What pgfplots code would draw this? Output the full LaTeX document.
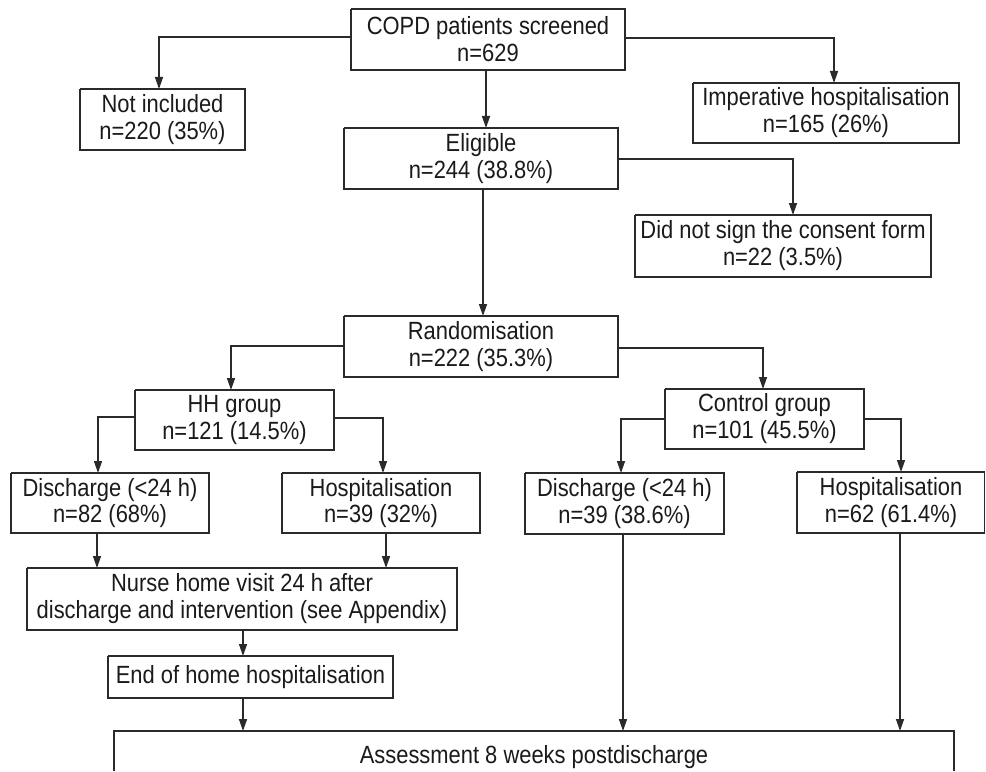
\documentclass[border=0pt]{standalone}
\usepackage{pgfplots}
\pgfplotsset{compat=1.18}
\usepackage{fontspec}
\setmainfont{Liberation Sans}[FakeStretch=0.88]
\usetikzlibrary{arrows.meta}
\definecolor{ln}{HTML}{2A2A2A}
\definecolor{tx}{HTML}{1A1A1A}
\begin{document}
\begin{tikzpicture}[x=1bp,y=1bp,
  bx/.style={color=ln, line width=1.4bp, line join=miter, mark=none, solid},
  arr/.style={bx, -{Triangle[length=12bp,width=8bp]}},
  lbl/.style={align=center, text=tx, font=\fontsize{25}{27}\selectfont, inner sep=0pt}]
\begin{axis}[
  width=986bp, height=771bp, scale only axis,
  xmin=0, xmax=986, ymin=0, ymax=771, y dir=reverse,
  axis lines=none, clip=false,
]
\path (axis cs:0,0) rectangle (axis cs:986,771);
% boxes
\addplot[bx] coordinates {(351,9)(625,9)(625,70)(351,70)(351,9)};
\addplot[bx] coordinates {(80,89)(245,89)(245,150)(80,150)(80,89)};
\addplot[bx] coordinates {(693,83)(959,83)(959,143)(693,143)(693,83)};
\addplot[bx] coordinates {(344,128)(618,128)(618,189)(344,189)(344,128)};
\addplot[bx] coordinates {(635,215)(931,215)(931,277)(635,277)(635,215)};
\addplot[bx] coordinates {(344,316)(618,316)(618,377)(344,377)(344,316)};
\addplot[bx] coordinates {(135,390)(334,390)(334,450)(135,450)(135,390)};
\addplot[bx] coordinates {(665,389)(864,389)(864,449)(665,449)(665,389)};
\addplot[bx] coordinates {(11,473)(209,473)(209,533)(11,533)(11,473)};
\addplot[bx] coordinates {(282,473)(480,473)(480,533)(282,533)(282,473)};
\addplot[bx] coordinates {(525,473)(724,473)(724,534)(525,534)(525,473)};
\addplot[bx] coordinates {(797,472)(984.5,472)(984.5,533)(797,533)(797,472)};
\addplot[bx] coordinates {(27,568)(457,568)(457,630)(27,630)(27,568)};
\addplot[bx] coordinates {(108,656)(393,656)(393,698)(108,698)(108,656)};
\addplot[bx] coordinates {(114,771)(114,731)(954,731)(954,771)};
% arrows
\addplot[arr] coordinates {(351,37)(159,37)(159,89)};
\addplot[arr] coordinates {(625,38)(834,38)(834,83)};
\addplot[arr] coordinates {(486,70)(486,128)};
\addplot[arr] coordinates {(618,159)(793,159)(793,215)};
\addplot[arr] coordinates {(483,189)(483,316)};
\addplot[arr] coordinates {(344,346)(231,346)(231,390)};
\addplot[arr] coordinates {(618,348)(763,348)(763,389)};
\addplot[arr] coordinates {(135,417)(98,417)(98,473)};
\addplot[arr] coordinates {(334,418)(383,418)(383,473)};
\addplot[arr] coordinates {(665,419)(621,419)(621,473)};
\addplot[arr] coordinates {(864,419)(901,419)(901,472)};
\addplot[arr] coordinates {(97,533)(97,568)};
\addplot[arr] coordinates {(386,533)(386,568)};
\addplot[arr] coordinates {(243,630)(243,656)};
\addplot[arr] coordinates {(243,698)(243,731)};
\addplot[arr] coordinates {(623,534)(623,731)};
\addplot[arr] coordinates {(900,533)(900,731)};
% labels
\node[lbl] at (axis cs:488,39.5) {COPD patients screened\\n=629};
\node[lbl] at (axis cs:162.5,119.5) {Not included\\n=220 (35\%)};
\node[lbl] at (axis cs:826,113) {Imperative hospitalisation\\n=165 (26\%)};
\node[lbl] at (axis cs:481,158.5) {Eligible\\n=244 (38.8\%)};
\node[lbl] at (axis cs:783,246) {Did not sign the consent form\\n=22 (3.5\%)};
\node[lbl] at (axis cs:481,346.5) {Randomisation\\n=222 (35.3\%)};
\node[lbl] at (axis cs:234.5,420) {HH group\\n=121 (14.5\%)};
\node[lbl] at (axis cs:764.5,419) {Control group\\n=101 (45.5\%)};
\node[lbl] at (axis cs:110,503) {Discharge (<24 h)\\n=82 (68\%)};
\node[lbl] at (axis cs:381,503) {Hospitalisation\\n=39 (32\%)};
\node[lbl] at (axis cs:624.5,503.5) {Discharge (<24 h)\\n=39 (38.6\%)};
\node[lbl] at (axis cs:891,502.5) {Hospitalisation\\n=62 (61.4\%)};
\node[lbl] at (axis cs:242,599) {Nurse home visit 24 h after\\discharge and intervention (see Appendix)};
\node[lbl] at (axis cs:250.5,677) {End of home hospitalisation};
\node[lbl, anchor=base] at (axis cs:534,763) {Assessment 8 weeks postdischarge};
\end{axis}
\end{tikzpicture}
\end{document}
